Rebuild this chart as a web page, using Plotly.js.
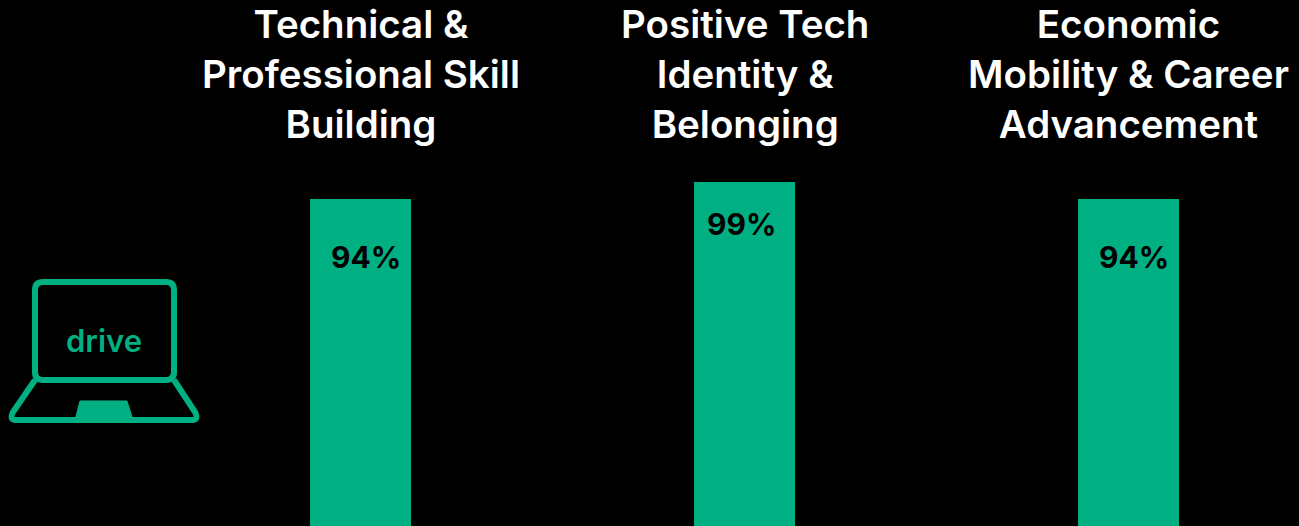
<!DOCTYPE html>
<html><head><meta charset="utf-8">
<script src="https://cdn.plot.ly/plotly-3.0.1.min.js"></script>
<style>html,body{margin:0;padding:0;background:#000;overflow:hidden}</style>
</head><body><div id="chart" style="width:1299px;height:526px"></div>
<script>
const categories = ["Technical &<br>Professional Skill<br>Building","Positive Tech<br>Identity &<br>Belonging","Economic<br>Mobility & Career<br>Advancement"];
const positions = [0,1,2];
const values = [94,99,94];
const labels = ["94%","99%","94%"];
const labelShiftX = [5,-3.5,5];
const labelShiftY = [-58,-42,-58];
const green = "#00B083";
const font = "Inter, 'Noto Sans', sans-serif";
const W=1299,H=526;
const px=x=>x/W, py=y=>1-y/H;
const laptop = [
 {path:'M 43 282 L 166 282 Q 174 282 174 290 L 174 372 Q 174 380 166 380 L 43 380 Q 35 380 35 372 L 35 290 Q 35 282 43 282 Z',line:{color:green,width:6}},
 {path:'M 35 380 L 13 412 Q 9 420 16 420 L 192 420 Q 199 420 195 412 L 174 380',line:{color:green,width:6}},
 {path:'M 80 401 L 127 401 L 133 420 L 75 420 Z',fillcolor:green,line:{color:green,width:1}}
].map(s=>{
  const p=s.path.replace(/(-?\d+(?:\.\d+)?) (-?\d+(?:\.\d+)?)/g,(m,a,b)=>(a/W).toFixed(5)+' '+(1-b/H).toFixed(5));
  return Object.assign({type:'path'},s,{path:p,xref:'paper',yref:'paper'});
});
const data=[{type:'bar',x:positions,y:values,width:0.263,marker:{color:green,line:{width:0}},hoverinfo:'skip'}];
const annotations=positions.map((p,i)=>({x:p,y:values[i],xref:'x',yref:'y',xshift:labelShiftX[i],yshift:labelShiftY[i],
  text:labels[i],showarrow:false,font:{family:font,size:30,color:'#000',weight:700},xanchor:'center',yanchor:'middle'}));
positions.forEach((p,i)=>annotations.push({x:p,y:1,xref:'x',yref:'paper',yanchor:'top',yshift:1,xanchor:'center',align:'center',
  text:categories[i],showarrow:false,font:{family:font,size:38.5,color:'#fff',weight:600}}));
annotations.push({x:px(104),y:py(340),xref:'paper',yref:'paper',xanchor:'center',yanchor:'middle',text:'drive',showarrow:false,font:{family:font,size:31,color:green,weight:600}});
const layout={width:W,height:H,paper_bgcolor:'#000',plot_bgcolor:'#000',showlegend:false,
 margin:{l:0,r:0,t:0,b:0},
 xaxis:{range:[-360.5/384,(1299-360.5)/384],visible:false,fixedrange:true},
 yaxis:{range:[0,151.4],visible:false},
 shapes:laptop,annotations,bargap:0};
Plotly.newPlot('chart',data,layout,{displayModeBar:false,staticPlot:true});
</script></body></html>
